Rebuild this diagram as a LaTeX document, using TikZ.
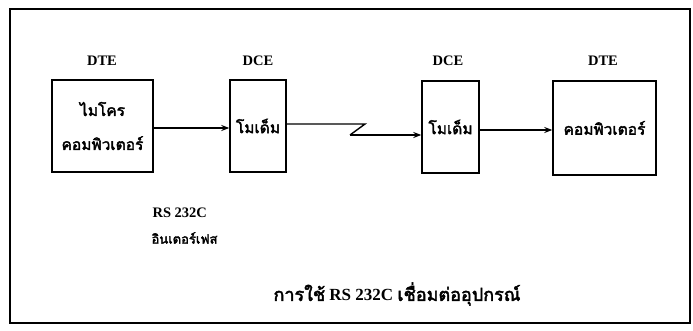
\documentclass[tikz,border=0pt]{standalone}
\usepackage{fontspec}
\setmainfont{Liberation Serif}
\newfontfamily\thaifont[Script=Thai,AutoFakeBold=2.5]{Loma}
\usetikzlibrary{arrows.meta}
\begin{document}
\begin{tikzpicture}[x=1pt,y=-1pt,
  box/.style={draw,line width=1.4pt,minimum width=#1,inner sep=0pt},
  lab/.style={font=\bfseries\fontsize{14.5}{16}\selectfont},
  th/.style={font=\thaifont\bfseries\fontsize{15.5}{22}\selectfont,align=center},
  conn/.style={line width=1.4pt,-{Stealth[length=8pt,width=6pt]}}]
\useasboundingbox (0,0) rectangle (693,331);
\draw[line width=1.3pt] (10,9) rectangle (690,323);
% boxes
\node[box=101pt,minimum height=92pt,th,font=\thaifont\bfseries\fontsize{15.5}{34}\selectfont] (b1) at (102.5,126) {ไมโคร\\คอมพิวเตอร์};
\node[box=56pt,minimum height=92pt,th] (b2) at (258,126) {โมเด็ม};
\node[box=57pt,minimum height=92pt,th] (b3) at (450.5,127) {โมเด็ม};
\node[box=103pt,minimum height=94pt,th] (b4) at (604.5,128) {คอมพิวเตอร์};
% labels
\node[lab] (l1) at (102,61) {DTE};
\node[lab] (l2) at (258,61) {DCE};
\node[lab] (l3) at (448,61) {DCE};
\node[lab] (l4) at (603,61) {DTE};
% connectors
\coordinate (z1) at (365,124);
\coordinate (z2) at (350,135);
\draw[conn] (b1.east |- 0,128) -- (b2.west |- 0,128);
\draw[line width=1.4pt] (b2.east |- z1) -- (z1) -- (z2);
\draw[conn] (z2) -- (z2 -| b3.west);
\draw[conn] (b3.east |- 0,130) -- (b4.west |- 0,130);
% interface label
\node[lab,anchor=west] (rs) at (149,213) {RS 232C};
\node[th,font=\thaifont\bfseries\fontsize{13}{16}\selectfont,anchor=west] (inf) at (148,238) {อินเตอร์เฟส};
% caption
\node[font=\bfseries\fontsize{17}{20}\selectfont] (cap) at (397,294) {{\thaifont\fontsize{18}{20}\selectfont การใช้} RS 232C {\thaifont\fontsize{18}{20}\selectfont เชื่อมต่ออุปกรณ์}};
\end{tikzpicture}
\end{document}
